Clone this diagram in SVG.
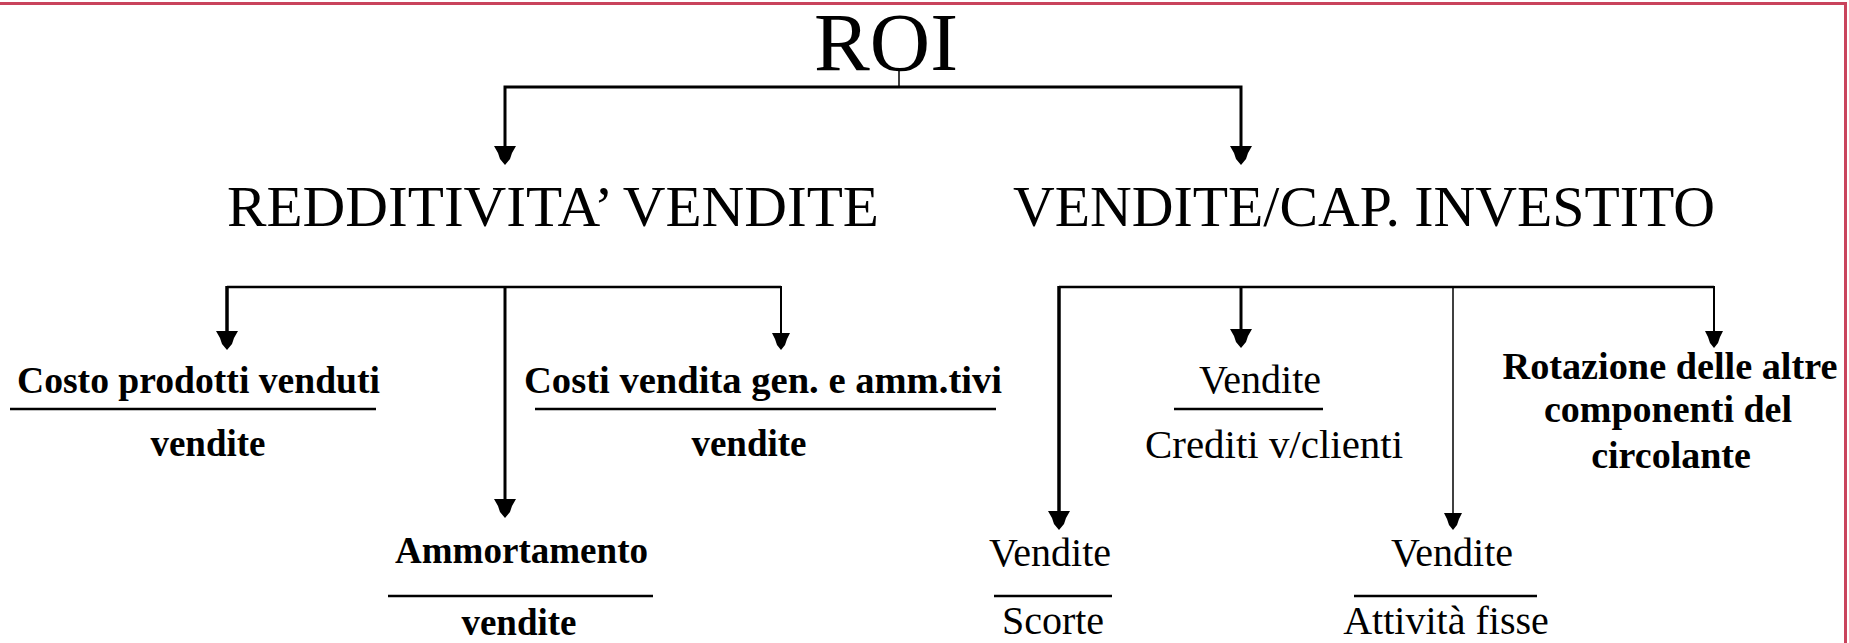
<svg xmlns="http://www.w3.org/2000/svg" width="1849" height="643" viewBox="0 0 1849 643">
<style>
.t{font-family:"Liberation Serif","Times New Roman",serif;fill:#000}
.h1{font-size:82px}
.h2{font-size:57px}
.b{font-size:37px;font-weight:bold}
.b2{font-size:38px;font-weight:bold}
.r{font-size:40px}
.ln{stroke:#000;fill:none}
.fr{stroke:#000;stroke-width:2.5}
.ah{fill:#000}
</style>
<defs>
<polygon id="head" points="-11,-19 11,-19 7,-12 5,-6 0,0 -5,-6 -7,-12"/>
<polygon id="heads" points="-9,-17 9,-17 6,-11 4,-5 0,0 -4,-5 -6,-11"/>
</defs>
<rect x="0" y="2" width="1846" height="3" fill="#c9435c"/>
<rect x="1844" y="2" width="3" height="641" fill="#c9435c"/>
<g id="connectors">
<line class="ln" x1="899" y1="68" x2="899" y2="87" stroke-width="1.5"/>
<polyline class="ln" points="505,150 505,87 1241,87 1241,150" stroke-width="3"/>
<use href="#head" x="505" y="165" class="ah"/>
<use href="#head" x="1241" y="165" class="ah"/>
<line class="ln" x1="227" y1="287" x2="781" y2="287" stroke-width="2.5"/>
<line class="ln" x1="227" y1="286" x2="227" y2="335" stroke-width="3.5"/>
<use href="#head" x="227" y="350" class="ah"/>
<line class="ln" x1="505" y1="286" x2="505" y2="503" stroke-width="3"/>
<use href="#head" x="505" y="518" class="ah"/>
<line class="ln" x1="781" y1="286" x2="781" y2="335" stroke-width="2"/>
<use href="#heads" x="781" y="350" class="ah"/>
<line class="ln" x1="1059" y1="287" x2="1714" y2="287" stroke-width="2.5"/>
<line class="ln" x1="1059" y1="286" x2="1059" y2="515" stroke-width="3.5"/>
<use href="#head" x="1059" y="530" class="ah"/>
<line class="ln" x1="1241" y1="286" x2="1241" y2="333" stroke-width="3"/>
<use href="#head" x="1241" y="348" class="ah"/>
<line class="ln" x1="1453" y1="286" x2="1453" y2="515" stroke-width="1.5"/>
<use href="#heads" x="1453" y="530" class="ah"/>
<line class="ln" x1="1714" y1="286" x2="1714" y2="333" stroke-width="2"/>
<use href="#heads" x="1714" y="348" class="ah"/>
</g>
<g id="roi"><text class="t h1" x="814" y="70" textLength="144" lengthAdjust="spacingAndGlyphs">ROI</text></g>
<g id="redditivita"><text class="t h2" x="227" y="226" textLength="652" lengthAdjust="spacingAndGlyphs">REDDITIVITA’ VENDITE</text></g>
<g id="vendite-cap"><text class="t h2" x="1013" y="226" textLength="702" lengthAdjust="spacingAndGlyphs">VENDITE/CAP. INVESTITO</text></g>
<g id="costo-prodotti">
<text class="t b" x="17" y="393" textLength="363" lengthAdjust="spacingAndGlyphs">Costo prodotti venduti</text>
<line class="fr" x1="10" y1="409" x2="376" y2="409"/>
<text class="t b" x="208" y="456" text-anchor="middle">vendite</text>
</g>
<g id="costi-vendita">
<text class="t b" x="524" y="393" textLength="478" lengthAdjust="spacingAndGlyphs">Costi vendita gen. e amm.tivi</text>
<line class="fr" x1="535" y1="409" x2="996" y2="409"/>
<text class="t b" x="749" y="456" text-anchor="middle">vendite</text>
</g>
<g id="ammortamento">
<text class="t b" x="395" y="563" textLength="253" lengthAdjust="spacingAndGlyphs">Ammortamento</text>
<line class="fr" x1="388" y1="596" x2="653" y2="596"/>
<text class="t b" x="519" y="635" text-anchor="middle">vendite</text>
</g>
<g id="crediti">
<text class="t r" x="1260" y="393" text-anchor="middle">Vendite</text>
<line class="fr" x1="1174" y1="409" x2="1323" y2="409"/>
<text class="t r" x="1274" y="458" text-anchor="middle" textLength="258" lengthAdjust="spacingAndGlyphs">Crediti v/clienti</text>
</g>
<g id="rotazione">
<text class="t b2" x="1670" y="379" text-anchor="middle" textLength="335" lengthAdjust="spacingAndGlyphs">Rotazione delle altre</text>
<text class="t b2" x="1668" y="422" text-anchor="middle">componenti del</text>
<text class="t b2" x="1671" y="468" text-anchor="middle">circolante</text>
</g>
<g id="scorte">
<text class="t r" x="1050" y="566" text-anchor="middle">Vendite</text>
<line class="fr" x1="994" y1="596" x2="1112" y2="596"/>
<text class="t r" x="1053" y="634" text-anchor="middle">Scorte</text>
</g>
<g id="attivita">
<text class="t r" x="1452" y="566" text-anchor="middle">Vendite</text>
<line class="fr" x1="1354" y1="596" x2="1537" y2="596"/>
<text class="t r" x="1446" y="634" text-anchor="middle">Attività fisse</text>
</g>
</svg>
